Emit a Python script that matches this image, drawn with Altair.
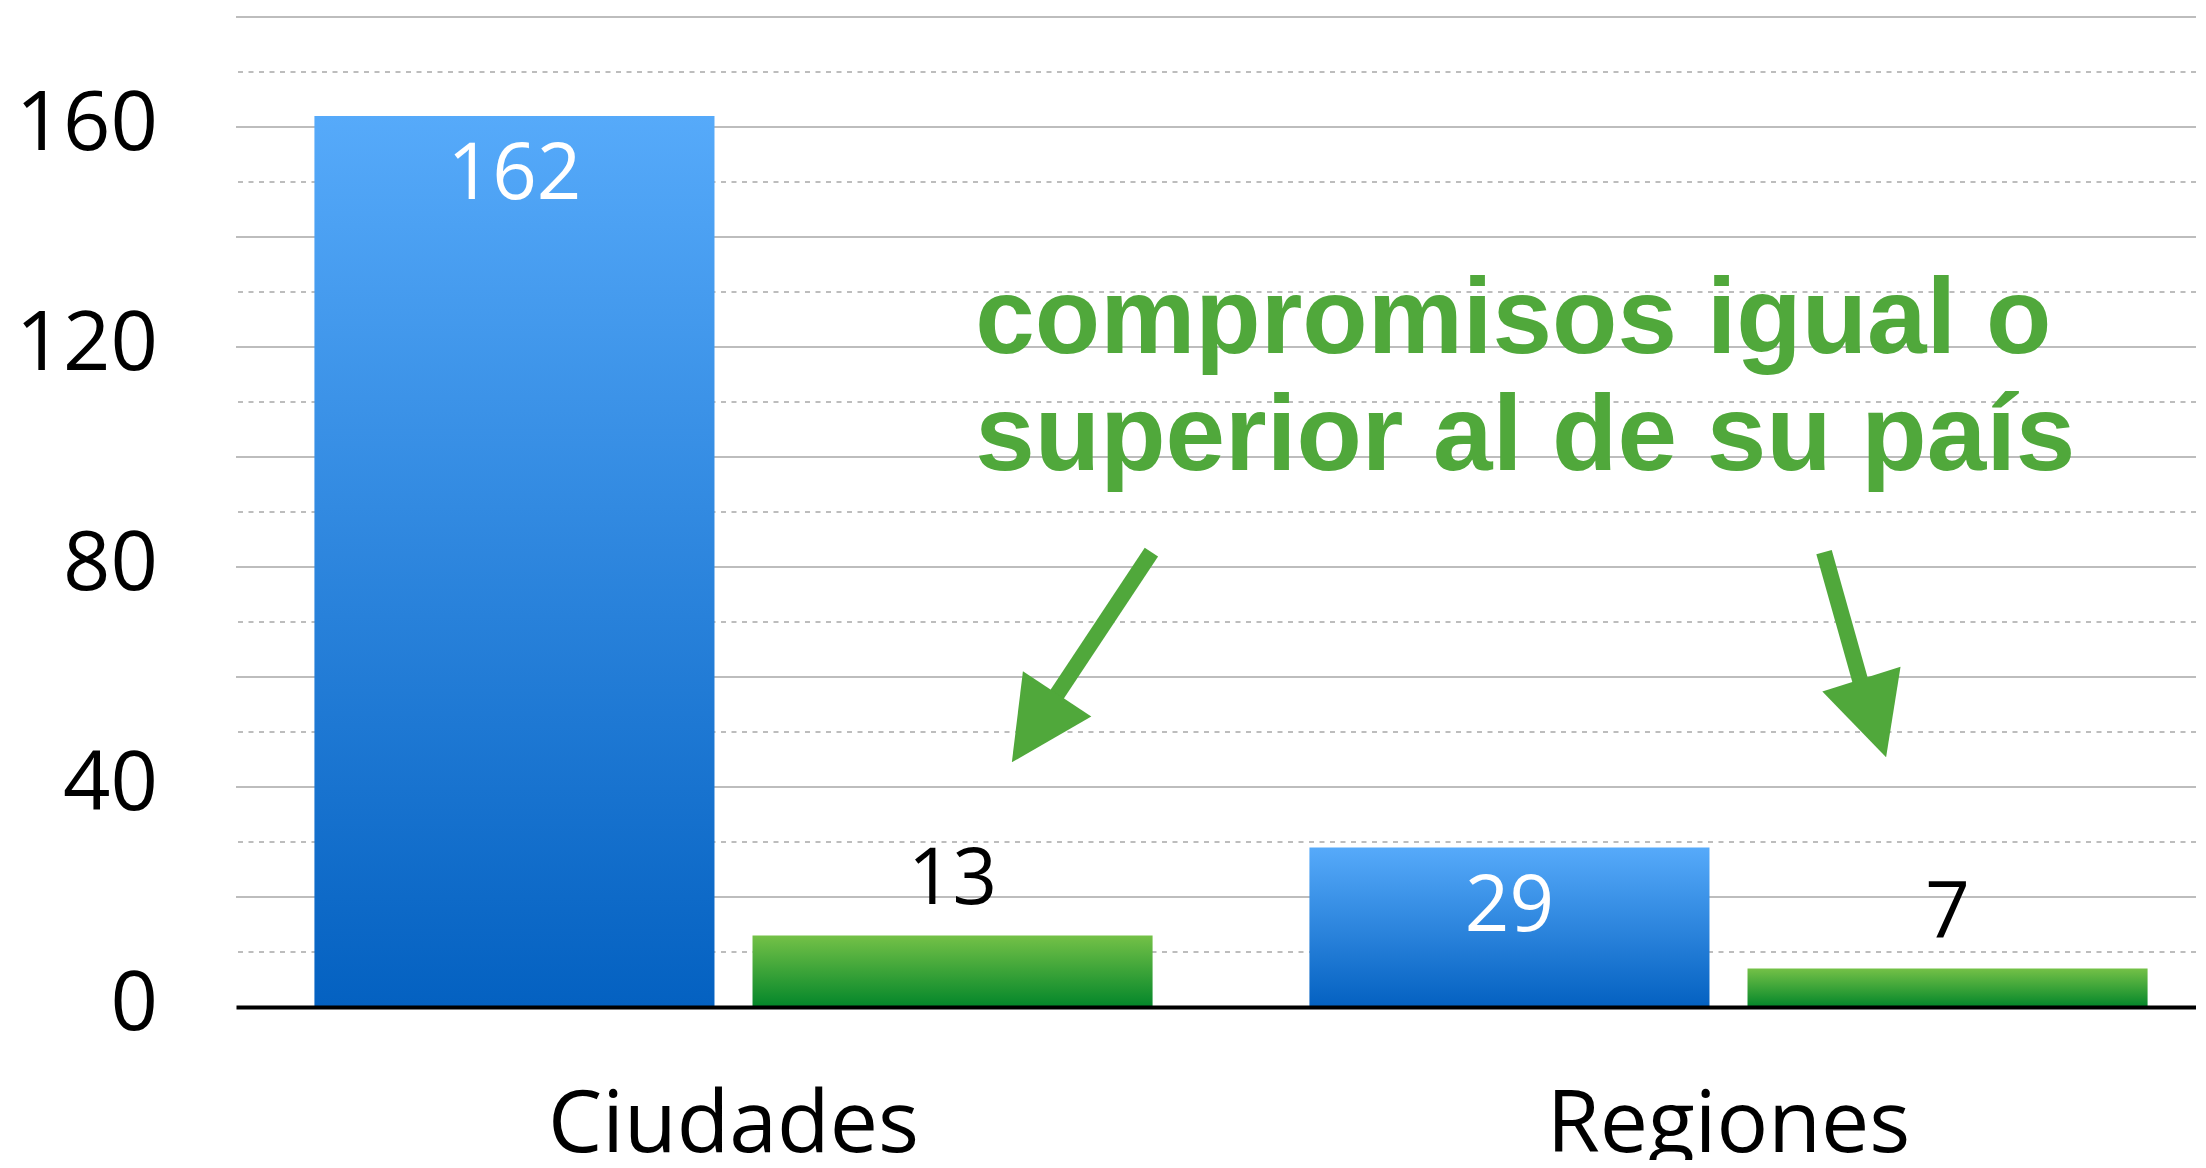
import altair as alt
import pandas as pd

# ---- data ----
categories = ["Ciudades", "Regiones"]
series = ["Total", "Igual o superior"]
total_values = [162, 29]
superior_values = [13, 7]
grid_ticks = list(range(10, 190, 10))
label_ticks = [0, 40, 80, 120, 160]

annotation_lines = ["compromisos igual o", "superior al de su país"]
annotation_x = [0.743, 0.743]          # category-index units
annotation_y = [118.9, 97.6]           # value units

arrow_shaft_x = [0.920, 1.596]
arrow_shaft_y = [82.7, 82.7]
arrow_shaft_x2 = [0.818, 1.637]
arrow_shaft_y2 = [54.9, 56.4]
arrow_head_x = [0.8025, 1.646]
arrow_head_y = [50.7, 52.5]
arrow_head_angle = [213.5, 162.5]

# ---- tables ----
bars = pd.DataFrame({
    "category": categories * 2,
    "series": [series[0]] * 2 + [series[1]] * 2,
    "value": total_values + superior_values,
})
grid = pd.DataFrame({"tick": grid_ticks})
ylabels = pd.DataFrame({"tick": label_ticks})
annot = pd.DataFrame({"line": annotation_lines, "ax": annotation_x, "ay": annotation_y})
arrows = pd.DataFrame({
    "x": arrow_shaft_x, "y": arrow_shaft_y, "x2": arrow_shaft_x2, "y2": arrow_shaft_y2,
    "hx": arrow_head_x, "hy": arrow_head_y, "angle": arrow_head_angle,
})

W, H = 1960, 990
GREEN = "#50A83B"
FONT = "Open Sans"

y_scale = alt.Scale(domain=[0, 180], nice=False, zero=True)

x_band = alt.X(
    "category:N", sort=categories,
    scale=alt.Scale(domain=categories, range=[0, 1990], paddingInner=0, paddingOuter=0),
    axis=alt.Axis(title=None, ticks=False, tickSize=0, domain=True, domainColor="black",
                  domainWidth=4, labelAngle=0, labelFont=FONT, labelFontSize=86,
                  labelColor="black", labelBaseline="alphabetic", labelPadding=144,
                  labelLimit=2000, grid=False, zindex=1),
)
x_off = alt.XOffset("series:N", sort=series,
                    scale=alt.Scale(domain=series, paddingInner=0.0868, paddingOuter=0.179))

base = alt.Chart(bars).encode(x=x_band, xOffset=x_off,
                              y=alt.Y("value:Q", scale=y_scale, axis=None))

gridlines = alt.Chart(grid).transform_calculate(
    kind="datum.tick % 20 === 0 ? 'solid' : 'dotted'"
).mark_rule(color="#BDBDBD", strokeWidth=2).encode(
    y=alt.Y("tick:Q", scale=y_scale, axis=None),
    strokeDash=alt.StrokeDash("kind:N",
                              scale=alt.Scale(domain=["solid", "dotted"], range=[[1, 0], [5, 5.5]]),
                              legend=None),
)

# y-axis tick labels, placed at the left edge of the plot through the y scale
ytext = alt.Chart(ylabels).mark_text(
    align="right", baseline="middle", dx=-78, dy=-2, font=FONT, fontSize=83, color="black"
).encode(
    x=alt.value(0),
    y=alt.Y("tick:Q", scale=y_scale, axis=None),
    text="tick:Q",
)

blue_grad = alt.Gradient(gradient="linear",
                         stops=[alt.GradientStop(color="#56AAFA", offset=0),
                                alt.GradientStop(color="#0461C1", offset=1)],
                         x1=1, x2=1, y1=0, y2=1)
green_grad = alt.Gradient(gradient="linear",
                          stops=[alt.GradientStop(color="#74C147", offset=0),
                                 alt.GradientStop(color="#03862A", offset=1)],
                          x1=1, x2=1, y1=0, y2=1)

blue_bars = base.transform_filter(alt.datum.series == series[0]).mark_bar(color=blue_grad)
green_bars = base.transform_filter(alt.datum.series == series[1]).mark_bar(color=green_grad)

blue_labels = base.transform_filter(alt.datum.series == series[0]).mark_text(
    font=FONT, fontSize=78, color="white", baseline="alphabetic", dy=83
).encode(text="value:Q")
green_labels = base.transform_filter(alt.datum.series == series[1]).mark_text(
    font=FONT, fontSize=78, color="black", baseline="alphabetic", dy=-32
).encode(text="value:Q")

main = alt.layer(gridlines, ytext, blue_bars, green_bars, blue_labels, green_labels)

ax_scale = alt.Scale(domain=[0, 2], range=[0, 1990], nice=False, zero=False)

annot_text = alt.Chart(annot).mark_text(
    align="left", baseline="alphabetic", font="Liberation Sans", fontWeight="bold",
    fontSize=107, color=GREEN
).encode(
    x=alt.X("ax:Q", scale=ax_scale, axis=None),
    y=alt.Y("ay:Q", scale=y_scale, axis=None),
    text="line:N",
)

shafts = alt.Chart(arrows).mark_rule(color=GREEN, strokeWidth=16, strokeCap="butt").encode(
    x=alt.X("x:Q", scale=ax_scale, axis=None),
    x2="x2:Q",
    y=alt.Y("y:Q", scale=y_scale, axis=None),
    y2="y2:Q",
)

heads = alt.Chart(arrows).mark_point(
    shape="M0,-1L1,1L-1,1Z", size=6724, filled=True, color=GREEN, opacity=1, strokeWidth=0
).encode(
    x=alt.X("hx:Q", scale=ax_scale, axis=None),
    y=alt.Y("hy:Q", scale=y_scale, axis=None),
    angle=alt.Angle("angle:Q", scale=None),
)

annot_layer = alt.layer(annot_text, shafts, heads)

chart = alt.layer(main, annot_layer).resolve_scale(x="independent").properties(
    width=W, height=H,
    autosize=alt.AutoSizeParams(type="none"),
    padding={"left": 228, "top": 9, "right": 0, "bottom": 153},
).configure_view(stroke=None)

chart.save("out.html", embed_options={"renderer": "svg", "actions": False})
